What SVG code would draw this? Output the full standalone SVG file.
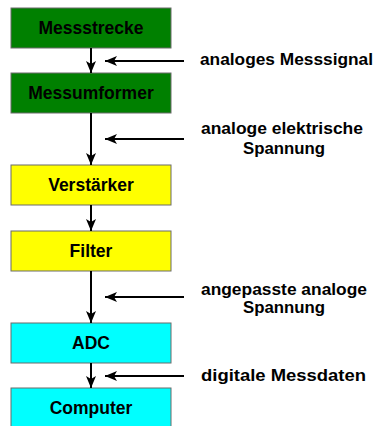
<svg xmlns="http://www.w3.org/2000/svg" width="376" height="426" viewBox="0 0 376 426">
<defs>
<style>
.box{stroke:#6b6b6b;stroke-width:1}
.g{fill:#008000}.y{fill:#ffff00}.c{fill:#00ffff}
.t{font-family:"Liberation Sans",Arial,sans-serif;font-weight:bold;font-size:17.5px;fill:#000;text-anchor:middle}
.l{font-family:"Liberation Sans",Arial,sans-serif;font-weight:bold;font-size:17px;fill:#000;text-anchor:middle}
.ln{stroke:#000;stroke-width:2;fill:none}
</style>
<marker id="ah" viewBox="0 0 12 10" refX="12" refY="5" markerWidth="12" markerHeight="10" markerUnits="userSpaceOnUse" orient="auto">
<path d="M0,0 L12,5 L0,10 L3,5 Z" fill="#000"/>
</marker>
</defs>
<rect width="376" height="426" fill="#fff"/>
<g id="messstrecke"><rect class="box g" x="11" y="8" width="160" height="40"/><text class="t" x="91" y="34">Messstrecke</text></g>
<g id="messumformer"><rect class="box g" x="11" y="73" width="160" height="40"/><text class="t" x="91" y="99">Messumformer</text></g>
<g id="verstaerker"><rect class="box y" x="11" y="165" width="160" height="40"/><text class="t" x="91" y="191">Verstärker</text></g>
<g id="filter"><rect class="box y" x="11" y="231" width="160" height="40"/><text class="t" x="91" y="257">Filter</text></g>
<g id="adc"><rect class="box c" x="11" y="323" width="160" height="40"/><text class="t" x="91" y="349">ADC</text></g>
<g id="computer"><rect class="box c" x="11" y="388" width="160" height="40"/><text class="t" x="91" y="414">Computer</text></g>
<g id="connectors">
<line class="ln" x1="91" y1="48" x2="91" y2="73" marker-end="url(#ah)"/>
<line class="ln" x1="91" y1="113" x2="91" y2="165" marker-end="url(#ah)"/>
<line class="ln" x1="91" y1="205" x2="91" y2="231" marker-end="url(#ah)"/>
<line class="ln" x1="91" y1="271" x2="91" y2="323" marker-end="url(#ah)"/>
<line class="ln" x1="91" y1="363" x2="91" y2="388" marker-end="url(#ah)"/>
<line class="ln" x1="184" y1="61" x2="105" y2="61" marker-end="url(#ah)"/>
<line class="ln" x1="184" y1="139" x2="105" y2="139" marker-end="url(#ah)"/>
<line class="ln" x1="184" y1="297" x2="105" y2="297" marker-end="url(#ah)"/>
<line class="ln" x1="184" y1="376" x2="105" y2="376" marker-end="url(#ah)"/>
</g>
<g id="labels">
<text class="l" x="286.5" y="65" textLength="173" lengthAdjust="spacingAndGlyphs">analoges Messsignal</text>
<text class="l" x="282" y="134" textLength="162" lengthAdjust="spacingAndGlyphs">analoge elektrische</text>
<text class="l" x="284" y="154" textLength="82" lengthAdjust="spacingAndGlyphs">Spannung</text>
<text class="l" x="284" y="295" textLength="166" lengthAdjust="spacingAndGlyphs">angepasste analoge</text>
<text class="l" x="284" y="313" textLength="82" lengthAdjust="spacingAndGlyphs">Spannung</text>
<text class="l" x="283.5" y="381" textLength="165" lengthAdjust="spacingAndGlyphs">digitale Messdaten</text>
</g>
</svg>
